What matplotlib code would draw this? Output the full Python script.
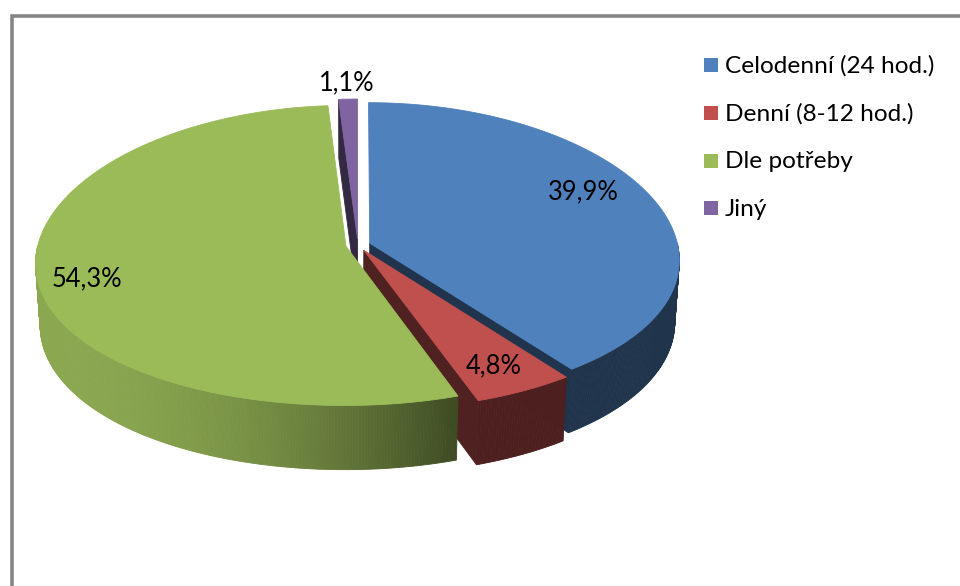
import numpy as np
import matplotlib
matplotlib.use('Agg')
import matplotlib.pyplot as plt
from matplotlib.patches import Polygon, Rectangle
from matplotlib.colors import to_rgb

# data
categories = ['Celodenní (24 hod.)', 'Denní (8-12 hod.)', 'Dle potřeby', 'Jiný']
shares = [39.9, 4.8, 54.3, 1.1]
pct_labels = ['39,9%', '4,8%', '54,3%', '1,1%']
colors = ['#4F81BD', '#C0504D', '#9BBB59', '#8064A2']

# where the percentage labels sit (pixels)
label_xy = [(583, 192), (494, 366), (87, 279), (347, 83)]

# 3d pie camera: x and y get their own perspective depth
CX, CY = 358, 245
TILT = np.radians(29)
DIST_X, DIST_Y = 7.9, 14.2
FX, FY = 308 * DIST_X, 308 * DIST_Y
THICK = 0.23
EXPLODE = 0.04

plt.rcParams['font.family'] = ['Lato', 'DejaVu Sans']
FS_LEG = 17.6
FS_LAB = 18.4

fig = plt.figure(figsize=(9.6, 5.86), dpi=100)
ax = fig.add_axes([0, 0, 1, 1])
ax.set_xlim(0, 960)
ax.set_ylim(586, 0)
ax.axis('off')


def project(u, v, h):
    dz = v * np.cos(TILT) - h * np.sin(TILT)
    yc = v * np.sin(TILT) + h * np.cos(TILT)
    return CX + FX * u / (DIST_X + dz), CY - FY * yc / (DIST_Y + dz)


def shade(c, f):
    return tuple(np.clip(np.array(to_rgb(c)) * f, 0, 1))


def quad(p, col, z):
    ax.add_patch(Polygon(p, closed=True, facecolor=col, edgecolor=col,
                         lw=0.6, zorder=z))


# angles clockwise from the back of the pie
bounds = np.concatenate([[0], np.cumsum(shares)]) / sum(shares) * 360
slices = []
for i in range(len(shares)):
    a0, a1 = bounds[i], bounds[i + 1]
    am = np.radians((a0 + a1) / 2)
    slices.append((a0, a1, EXPLODE * np.sin(am), EXPLODE * np.cos(am)))

x_lo, x_hi = 33, 455
wall_order = [3, 0, 1, 2]
for k, i in enumerate(wall_order):
    a0, a1, du, dv = slices[i]
    z = 2 + k * 0.1
    # outer rim, only the half facing the viewer
    lo, hi = max(a0, 90), min(a1, 270)
    if hi > lo:
        th = np.radians(np.linspace(lo, hi, int(hi - lo) * 2 + 2))
        for t0, t1 in zip(th[:-1], th[1:]):
            pts = [project(np.sin(t) + du, np.cos(t) + dv, 0) for t in (t0, t1)]
            pts += [project(np.sin(t) + du, np.cos(t) + dv, -THICK) for t in (t1, t0)]
            xm = np.mean([p[0] for p in pts])
            s = np.clip((xm - x_lo) / (x_hi - x_lo), 0, 1)
            quad(pts, shade(colors[i], 0.9 - 0.5 * s ** 2), z)
    # cut faces that turn toward the viewer
    for a, vis in ((a0, np.sin(np.radians(a0)) < -1e-6),
                   (a1, np.sin(np.radians(a1)) > 1e-6)):
        if vis:
            t = np.radians(a)
            pts = [project(du, dv, 0), project(np.sin(t) + du, np.cos(t) + dv, 0),
                   project(np.sin(t) + du, np.cos(t) + dv, -THICK), project(du, dv, -THICK)]
            quad(pts, shade(colors[i], 0.41), z + 0.05)

# top faces
for i, (a0, a1, du, dv) in enumerate(slices):
    th = np.radians(np.linspace(a0, a1, int(a1 - a0) * 2 + 3))
    pts = [project(du, dv, 0)] + [project(np.sin(t) + du, np.cos(t) + dv, 0) for t in th]
    quad(pts, colors[i], 5)
    ax.text(*label_xy[i], pct_labels[i], fontsize=FS_LAB, ha='center', va='center',
            color='black', zorder=6)

# legend
for j, name in enumerate(categories):
    yc = 65 + j * 47.8
    ax.add_patch(Rectangle((704, yc - 7), 14, 14, facecolor=colors[j], edgecolor='none', zorder=6))
    ax.text(725, yc + 1, name, fontsize=FS_LEG, ha='left', va='center', color='black', zorder=6)

# chart frame (right and bottom run off the image)
ax.plot([11.5, 11.5, 960], [586, 15.5, 15.5], color='#858585', lw=2.6,
        solid_joinstyle='miter', zorder=7)

fig.savefig('out.png', dpi=100)
